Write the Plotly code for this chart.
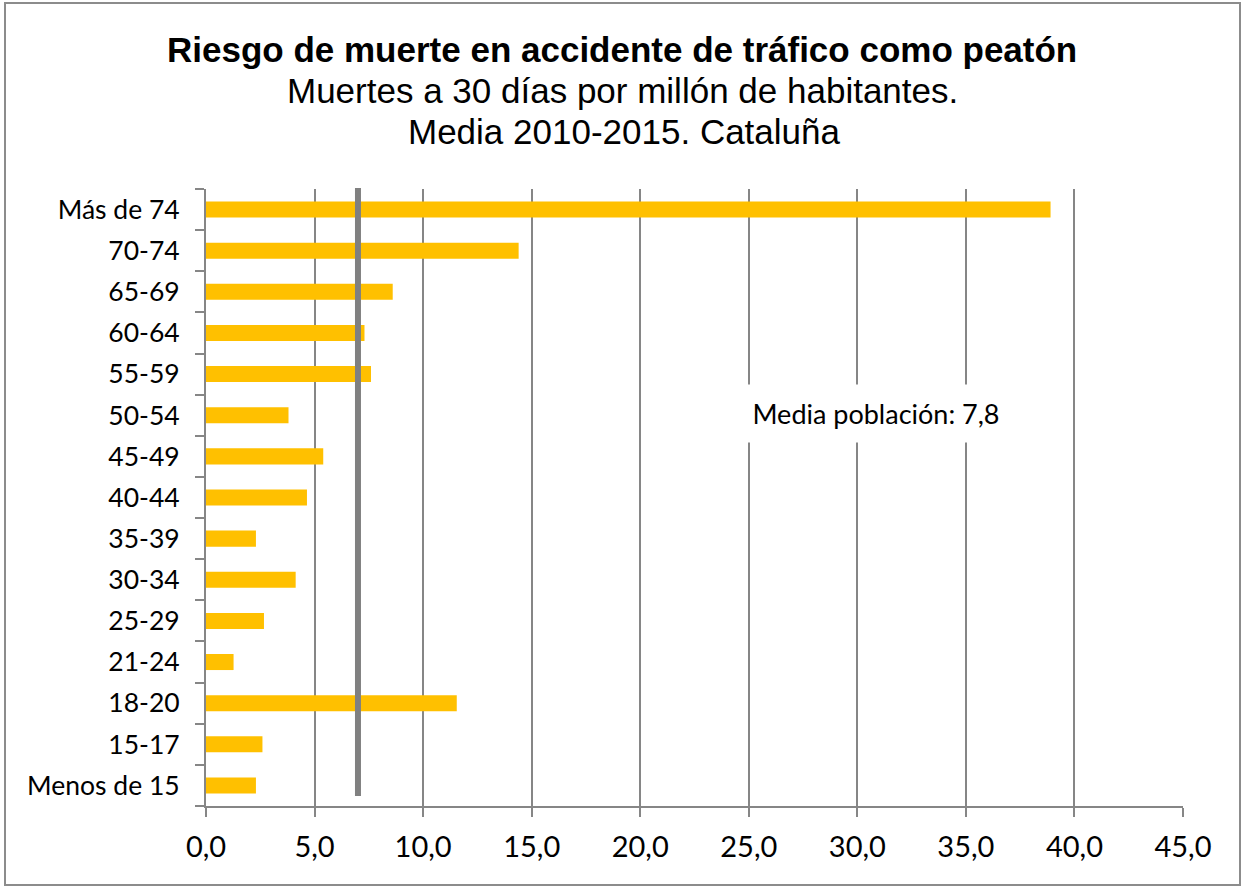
import plotly.graph_objects as go

categorias = ["Menos de 15", "15-17", "18-20", "21-24", "25-29", "30-34", "35-39",
              "40-44", "45-49", "50-54", "55-59", "60-64", "65-69", "70-74", "Más de 74"]
valores = [2.3, 2.6, 11.55, 1.27, 2.67, 4.13, 2.3, 4.65, 5.4, 3.8, 7.6, 7.3, 8.6, 14.4, 38.9]
media_linea = 7.0
media_texto = "Media población: 7,8"
titulo = "Riesgo de muerte en accidente de tráfico como peatón"
subtitulo1 = "Muertes a 30 días por millón de habitantes."
subtitulo2 = "Media 2010-2015. Cataluña"

W, H = 1245, 886
L, R, T, B = 206, 1183, 189, 806
pw, ph = R - L, B - T

def px(x):
    return (x - L) / pw

def py(y):
    return (B - y) / ph

grid = "#868686"
label_font = "Lato, 'Open Sans', sans-serif"
title_font = "Liberation Sans, Arial, sans-serif"

fig = go.Figure()
fig.add_trace(go.Bar(
    x=valores, y=categorias, orientation="h",
    marker=dict(color="#FFC000", line=dict(width=0)),
    width=0.39, hoverinfo="x+y", showlegend=False,
))

fig.update_layout(
    width=W, height=H,
    margin=dict(l=L, r=W - R, t=T, b=H - B),
    paper_bgcolor="white", plot_bgcolor="white",
    separators=", ",
    xaxis=dict(
        range=[0, 45], dtick=5, tick0=0, tickformat=".1f",
        showgrid=True, gridcolor=grid, gridwidth=2,
        zeroline=False, showline=True, linecolor=grid, linewidth=2,
        ticks="outside", ticklen=9, tickwidth=2, tickcolor=grid,
        tickfont=dict(family=label_font, size=29, color="black"),
        ticklabelstandoff=5,
    ),
    yaxis=dict(
        type="category", categoryorder="array", categoryarray=categorias,
        range=[-0.5, len(categorias) - 0.5],
        showgrid=False, zeroline=False, showline=True, linecolor=grid, linewidth=2,
        ticks="outside", tickson="boundaries", ticklen=9, tickwidth=2, tickcolor=grid,
        tickfont=dict(family=label_font, size=26.5, color="black"),
        ticklabelstandoff=19,
    ),
    shapes=[
        dict(type="line", xref="x", yref="paper", x0=media_linea, x1=media_linea,
             y0=py(796), y1=py(188), line=dict(color="#808080", width=6)),
        dict(type="rect", xref="paper", yref="paper", x0=px(5), x1=px(1240),
             y0=py(885), y1=py(3), line=dict(color="#8c8c8c", width=2), layer="below"),
    ],
    annotations=[
        dict(text="<b>" + titulo + "</b>", xref="paper", yref="paper",
             x=px(622), y=py(50), xanchor="center", yanchor="middle", showarrow=False,
             font=dict(family=title_font, size=35, color="black")),
        dict(text=subtitulo1, xref="paper", yref="paper",
             x=px(622), y=py(91), xanchor="center", yanchor="middle", showarrow=False,
             font=dict(family=title_font, size=35, color="black")),
        dict(text=subtitulo2, xref="paper", yref="paper",
             x=px(624), y=py(131), xanchor="center", yanchor="middle", showarrow=False,
             font=dict(family=title_font, size=35, color="black")),
        dict(text=media_texto, xref="paper", yref="paper",
             x=px(876), y=py(413), xanchor="center", yanchor="middle", showarrow=False,
             width=262, height=55, bgcolor="white",
             font=dict(family=label_font, size=27, color="black")),
    ],
)

fig.write_html("out.html", config={"displayModeBar": False},
               post_script="document.body.style.margin='0';")
